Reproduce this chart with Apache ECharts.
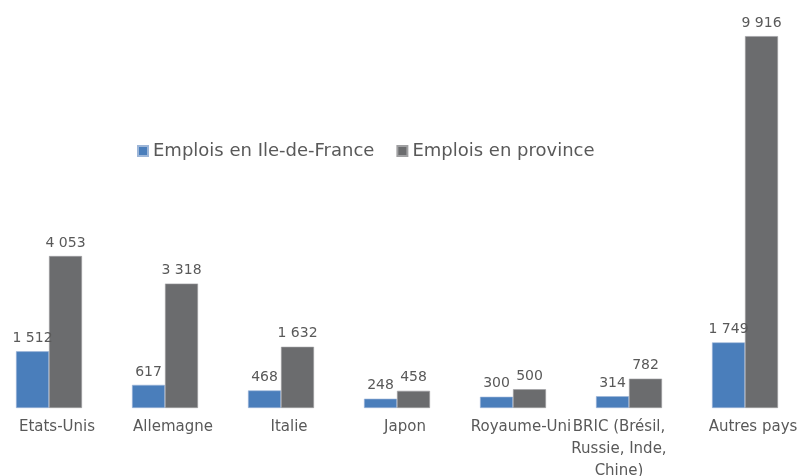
<!DOCTYPE html>
<html>
<head>
<meta charset="utf-8">
<script src="https://cdn.jsdelivr.net/npm/echarts@6/dist/echarts.min.js"></script>
<style>
  html, body { margin: 0; padding: 0; background: #fff; }
  #chart { width: 801px; height: 476px; }
</style>
</head>
<body>
<div id="chart"></div>
<script>
// pays d'implantation
const categories = ['Etats-Unis', 'Allemagne', 'Italie', 'Japon', 'Royaume-Uni', 'BRIC (Brésil,\nRussie, Inde,\nChine)', 'Autres pays']
const idfJobs = [1512, 617, 468, 248, 300, 314, 1749]
const provinceJobs = [4053, 3318, 1632, 458, 500, 782, 9916]
const seriesNames = ['Emplois en Ile-de-France', 'Emplois en province']

const labelColor = '#595959'
const font = 'DejaVu Sans'

function fmt(v) {
  return String(v).replace(/\B(?=(\d{3})+(?!\d))/g, ' ')
}

const chart = echarts.init(document.getElementById('chart'))

chart.setOption({
  animation: false,
  textStyle: { fontFamily: font },
  grid: {
    left: -9,
    right: -2,
    top: 33,
    bottom: 68,
    containLabel: false,
    outerBoundsMode: 'none'
  },
  legend: {
    data: seriesNames,
    left: 132,
    top: 137,
    itemWidth: 10,
    itemHeight: 10,
    itemGap: 22,
    icon: 'rect',
    textStyle: {
      color: labelColor,
      fontSize: 18,
      fontFamily: font
    }
  },
  xAxis: {
    type: 'category',
    data: categories.map((c, i) => ({
      value: c,
      textStyle: i === 5 ? { padding: [0, 20, 0, 0] } : { padding: [0, 0, 0, 16] }
    })),
    axisLine: { show: false },
    axisTick: { show: false },
    axisLabel: {
      color: labelColor,
      fontSize: 15,
      margin: 8,
      lineHeight: 22,
      interval: 0
    }
  },
  yAxis: {
    type: 'value',
    min: 0,
    max: 10000,
    show: false,
    splitLine: { show: false }
  },
  series: [{
    name: seriesNames[0],
    type: 'bar',
    data: idfJobs,
    barWidth: 33,
    barGap: '0%',
    itemStyle: {
      color: '#4A7EBB',
      borderColor: '#9db6d8',
      borderWidth: 0.6
    },
    label: {
      show: true,
      position: 'top',
      distance: 6,
      color: labelColor,
      fontSize: 14,
      formatter: p => fmt(p.value)
    }
  },
  {
    name: seriesNames[1],
    type: 'bar',
    data: provinceJobs,
    barWidth: 33,
    itemStyle: {
      color: '#6B6C6E',
      borderColor: '#a0a0a2',
      borderWidth: 0.6
    },
    label: {
      show: true,
      position: 'top',
      distance: 6,
      color: labelColor,
      fontSize: 14,
      formatter: p => fmt(p.value)
    }
  }]
})
</script>
</body>
</html>
